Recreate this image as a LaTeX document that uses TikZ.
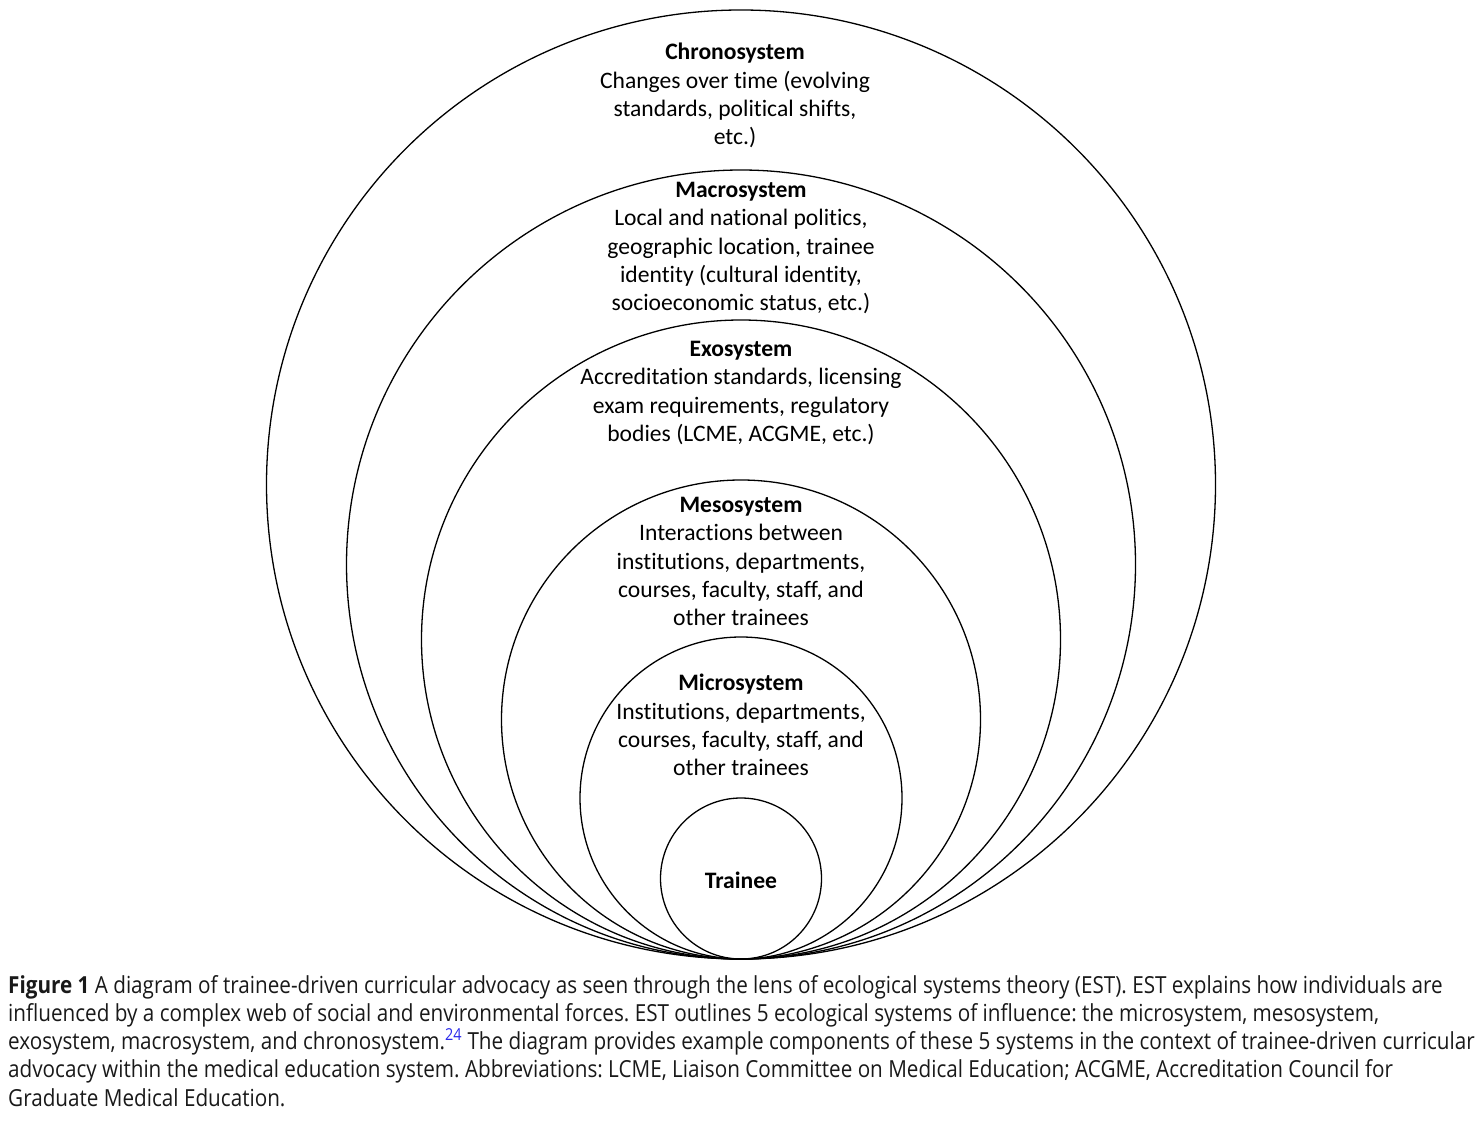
\documentclass[tikz,border=0pt]{standalone}
\usepackage{fontspec}
\setmainfont{Carlito}[Ligatures=CommonOff]
\newfontfamily\capfont{Open Sans}[FakeStretch=0.88]
\definecolor{linkblue}{RGB}{40,40,235}
\begin{document}
\frenchspacing
\begin{tikzpicture}[x=1pt,y=-1pt,
  ring/.style={draw=black,line width=1.3pt,circle,inner sep=0pt,outer sep=0pt},
  lbl/.style={align=center,inner sep=0pt,anchor=north,font=\fontsize{23.6}{28.3}\selectfont},
  captext/.style={align=left,inner sep=0pt,anchor=north west,font=\capfont\fontsize{23.5}{28.25}\selectfont,text=black!90}]
\useasboundingbox (0,0) rectangle (1478,1121);
\node[ring,minimum size=949pt] (chrono) at (741,484.5) {};
\node[ring,minimum size=789pt] (macro) at (741,564.5) {};
\node[ring,minimum size=639pt] (exo) at (741,639.5) {};
\node[ring,minimum size=479pt] (meso) at (741,719.5) {};
\node[ring,minimum size=322pt] (micro) at (741,798) {};
\node[ring,minimum size=161pt] (trainee) at (741,878.5) {};
\node[lbl] (tchrono) at (735,43) {\textbf{Chronosystem}\\Changes over time (evolving\\standards, political shifts,\\etc.)};
\node[lbl] (tmacro) at (741,182) {\textbf{Macrosystem}\\Local and national politics,\\geographic location, trainee\\identity (cultural identity,\\socioeconomic status, etc.)};
\node[lbl] (texo) at (741,341) {\textbf{Exosystem}\\Accreditation standards, licensing\\exam requirements, regulatory\\bodies (LCME, ACGME, etc.)};
\node[lbl] (tmeso) at (741,497) {\textbf{Mesosystem}\\Interactions between\\institutions, departments,\\courses, faculty, staff, and\\other trainees};
\node[lbl] (tmicro) at (741,674) {\textbf{Microsystem}\\Institutions, departments,\\courses, faculty, staff, and\\other trainees};
\node[lbl,anchor=center] (ttrainee) at (741,880) {\textbf{Trainee}};
\node[captext] (caption) at (8,975) {\textbf{Figure 1} A diagram of trainee-driven curricular advocacy as seen through the lens of ecological systems theory (EST). EST explains how individuals are\\influenced by a complex web of social and environmental forces. EST outlines 5 ecological systems of influence: the microsystem, mesosystem,\\exosystem, macrosystem, and chronosystem.\textsuperscript{\textcolor{linkblue}{24}} The diagram provides example components of these 5 systems in the context of trainee-driven curricular\\advocacy within the medical education system. Abbreviations: LCME, Liaison Committee on Medical Education; ACGME, Accreditation Council for\\Graduate Medical Education.};
\end{tikzpicture}
\end{document}
